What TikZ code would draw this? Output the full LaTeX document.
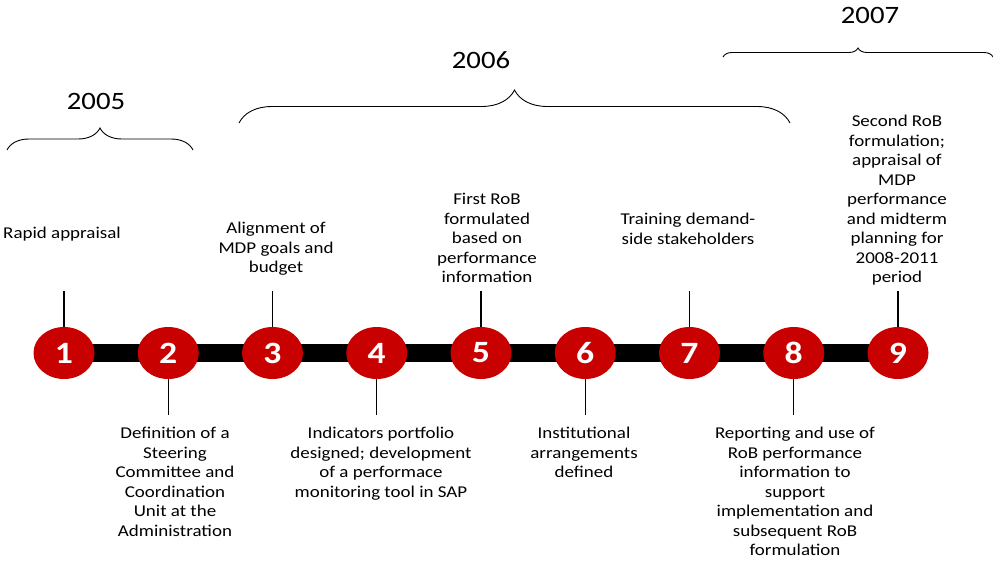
\documentclass[tikz,border=0pt]{standalone}
\usepackage{fontspec}
\setmainfont{Carlito}[FakeStretch=1.15]
\usetikzlibrary{positioning,shapes.geometric}
\usetikzlibrary{decorations.pathreplacing}
\definecolor{colr}{RGB}{200,0,0}

\begin{document}
\begin{tikzpicture}[x=1pt, y=-1pt,
    stage/.style={ellipse,fill=colr,minimum width=61pt,minimum height=52pt,inner sep=0pt,
      text=white,font=\fontsize{31}{31}\selectfont\bfseries},
    lbl/.style={align=center,inner sep=0pt,anchor=north,font=\fontsize{16.5}{19.5}\selectfont},
    yr/.style={inner sep=0pt,font=\fontsize{25}{25}\selectfont},
    brc/.style={decorate,line width=0.9pt,decoration={brace,amplitude=#1}},
    stem/.style={line width=1.2pt}]
    \useasboundingbox (0,0) rectangle (993,560);
    \coordinate (up) at (0,291);
    \coordinate (dn) at (0,415);

    % years
    \draw[brc=22] (7,150) -- (193,150);
    \draw[brc=33] (239,123) -- (790,123);
    \draw[brc=9] (723,57) -- (993,57);
    \node[yr] (y5) at (96,101) {2005};
    \node[yr] (y6) at (481,60) {2006};
    \node[yr] (y7) at (870,15) {2007};

    % time line
    \coordinate (b1) at (64,353);
    \coordinate (b9) at (898,353);
    \draw[line width=18pt] (b1) -- (b9);
    \foreach \i in {1,...,9}
      \node[stage] (c\i) at ({64+104.25*(\i-1)},353) {\i};

    % events above
    \node[lbl] (t1) at (62,227) {Rapid appraisal};
    \node[lbl] (t3) at (276,222) {Alignment of\\MDP goals and\\budget};
    \node[lbl] (t5) at (487,193) {First RoB\\formulated\\based on\\performance\\information};
    \node[lbl] (t7) at (688,213) {Training demand-\\side stakeholders};
    \node[lbl] (t9) at (897,115) {Second RoB\\formulation;\\appraisal of\\MDP\\performance\\and midterm\\planning for\\2008-2011\\period};
    % events below
    \node[lbl] (t2) at (175,427) {Definition of a\\Steering\\Committee and\\Coordination\\Unit at the\\Administration};
    \node[lbl] (t4) at (381,427) {Indicators portfolio\\designed; development\\of a performace\\monitoring tool in SAP};
    \node[lbl] (t6) at (584,427) {Institutional\\arrangements\\defined};
    \node[lbl] (t8) at (795,427) {Reporting and use of\\RoB performance\\information to\\support\\implementation and\\subsequent RoB\\formulation};

    \draw[stem] (c1.north) -- (c1 |- up);
    \draw[stem] (c3.north) -- (c3 |- up);
    \draw[stem] (c5.north) -- (c5 |- up);
    \draw[stem] (c7.north) -- (c7 |- up);
    \draw[stem] (c9.north) -- (c9 |- up);
    \draw[stem] (c2.south) -- (c2 |- dn);
    \draw[stem] (c4.south) -- (c4 |- dn);
    \draw[stem] (c6.south) -- (c6 |- dn);
    \draw[stem] (c8.south) -- (c8 |- dn);
\end{tikzpicture}
\end{document}
